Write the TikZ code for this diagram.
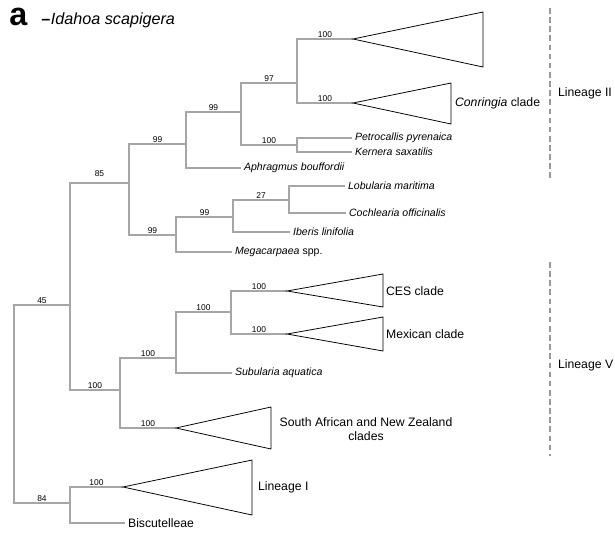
\documentclass[tikz,border=0pt]{standalone}
\usepackage{fontspec}
\setmainfont{Liberation Sans}
\usepackage{tikz}
\usetikzlibrary{positioning,calc}

\begin{document}
\begin{tikzpicture}[x=0.25mm, y=-0.25mm,
        branch/.style={draw=gray!45!black, double=gray!70, double distance=0.8pt, line width=0.6pt},
        clade/.style={draw=black, line width=0.55pt},
        boot/.style={font=\fontsize{6}{7}\selectfont, inner sep=1pt, above},
        taxon/.style={font=\fontsize{7.5}{9}\selectfont\itshape, anchor=west, inner xsep=2pt},
        group/.style={font=\fontsize{8.7}{10}\selectfont, anchor=west, inner xsep=2pt},
        lineage/.style={draw=gray!80, dashed, dash pattern=on 4pt off 2.5pt, line width=0.9pt}
    ]
        \useasboundingbox (0,0) rectangle (615,535);

        % Title
        \node[anchor=base west, inner sep=0pt, font=\fontsize{23}{23}\selectfont\bfseries] (panel) at (9,25) {a};
        \node[anchor=base west, inner sep=0pt, font=\fontsize{11.5}{12}\selectfont] (outg) at (41,24) {\textbf{–}\kern0.5pt\textit{Idahoa scapigera}};

        % Internal nodes
        \coordinate (root) at (14,404);
        \coordinate (n45) at (70,305);
        \coordinate (n84) at (70,503);
        \coordinate (n85) at (129,183);
        \coordinate (nLV) at (120,390);
        \coordinate (n99up) at (186,144);
        \coordinate (n99lo) at (176,235);
        \coordinate (n99in) at (241,112);
        \coordinate (n97) at (297,83);
        \coordinate (nPK) at (297,145);
        \coordinate (n99ib) at (233,217);
        \coordinate (n27) at (289,200);
        \coordinate (nCMS) at (176,358);
        \coordinate (nCM) at (231,312);

        % Collapsed clades (apex)
        \coordinate (topc) at (353,39);
        \coordinate (conr) at (353,103);
        \coordinate (ces) at (287,291);
        \coordinate (mex) at (287,334);
        \coordinate (saf) at (176,428);
        \coordinate (lin1) at (123,487);

        % Taxa
        \node[taxon] (aphr) at (241,168) {Aphragmus bouffordii};
        \node[taxon] (petr) at (352,138) {Petrocallis pyrenaica};
        \node[taxon] (kern) at (352,152) {Kernera saxatilis};
        \node[taxon] (lobu) at (345,186) {Lobularia maritima};
        \node[taxon] (coch) at (346,213) {Cochlearia officinalis};
        \node[taxon] (iber) at (290,232) {Iberis linifolia};
        \node[taxon] (mega) at (232,252) {Megacarpaea \textup{spp.}};
        \node[taxon] (subu) at (232,373) {Subularia aquatica};
        \node[group] (bisc) at (125,523) {Biscutelleae};

        % Branches
        \draw[branch] (root) |- node[boot, pos=0.75] {45} (n45);
        \draw[branch] (root) |- node[boot, pos=0.75] {84} (n84);
        \draw[branch] (n45) |- node[boot, pos=0.75, yshift=3pt] {85} (n85);
        \draw[branch] (n45) |- node[boot, pos=0.75] {100} (nLV);
        \draw[branch] (n85) |- node[boot, pos=0.75] {99} (n99up);
        \draw[branch] (n85) |- node[boot, pos=0.75] {99} (n99lo);
        \draw[branch] (n99up) |- node[boot, pos=0.75] {99} (n99in);
        \draw[branch] (n99up) |- (aphr.west);
        \draw[branch] (n99in) |- node[boot, pos=0.75] {97} (n97);
        \draw[branch] (n99in) |- node[boot, pos=0.75] {100} (nPK);
        \draw[branch] (n97) |- node[boot, pos=0.75] {100} (topc);
        \draw[branch] (n97) |- node[boot, pos=0.75] {100} (conr);
        \draw[branch] (nPK) |- (petr.west);
        \draw[branch] (nPK) |- (kern.west);
        \draw[branch] (n99lo) |- node[boot, pos=0.75] {99} (n99ib);
        \draw[branch] (n99lo) |- (mega.west);
        \draw[branch] (n99ib) |- node[boot, pos=0.75] {27} (n27);
        \draw[branch] (n99ib) |- (iber.west);
        \draw[branch] (n27) |- (lobu.west);
        \draw[branch] (n27) |- (coch.west);
        \draw[branch] (nLV) |- node[boot, pos=0.75] {100} (nCMS);
        \draw[branch] (nLV) |- node[boot, pos=0.75] {100} (saf);
        \draw[branch] (nCMS) |- node[boot, pos=0.75] {100} (nCM);
        \draw[branch] (nCMS) |- (subu.west);
        \draw[branch] (nCM) |- node[boot, pos=0.75] {100} (ces);
        \draw[branch] (nCM) |- node[boot, pos=0.75] {100} (mex);
        \draw[branch] (n84) |- node[boot, pos=0.75] {100} (lin1);
        \draw[branch] (n84) |- (bisc.west);

        % Triangles
        \draw[clade] (topc) -- ++(130,-27) -- ++(0,55) -- cycle;
        \draw[clade] (conr) -- ++(98,-20) -- ++(0,41) -- cycle;
        \draw[clade] (ces) -- ++(96,-17) -- ++(0,33) -- cycle;
        \draw[clade] (mex) -- ++(96,-17) -- ++(0,34) -- cycle;
        \draw[clade] (saf) -- ++(95,-21) -- ++(0,42) -- cycle;
        \draw[clade] (lin1) -- ++(129,-27) -- ++(0,55) -- cycle;

        \node[group] (conrlab) at (452,103) {\textit{Conringia} clade};
        \node[group] (ceslab) at (383,291) {CES clade};
        \node[group] (mexlab) at (383,334) {Mexican clade};
        \node[group, anchor=center, align=center] (saflab) at (366,429) {South African and New Zealand\\clades};
        \node[group] (lin1lab) at (255,487) {Lineage I};

        % Lineages
        \coordinate (l2top) at (550,8);
        \coordinate (l2bot) at (550,180);
        \coordinate (l5top) at (550,262);
        \coordinate (l5bot) at (550,456);
        \draw[lineage] (l2top) -- (l2bot);
        \draw[lineage] (l5top) -- (l5bot);
        \node[group] (l2lab) at (555,93) {Lineage II};
        \node[group] (l5lab) at (555,365) {Lineage V};
    \end{tikzpicture}
\end{document}
